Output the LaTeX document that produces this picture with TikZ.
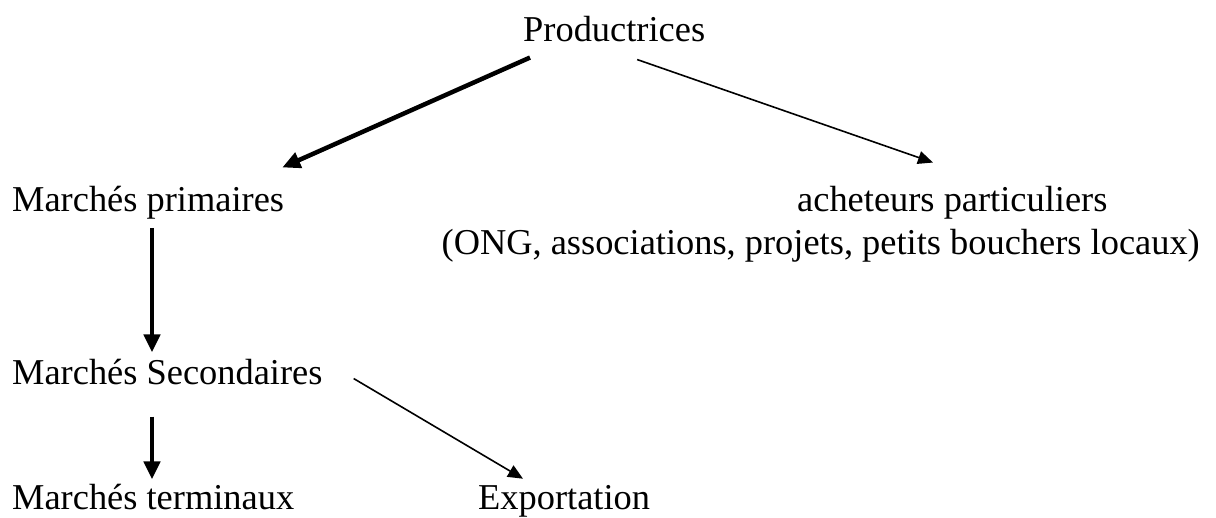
\documentclass[tikz,border=0pt]{standalone}
\usepackage{fontspec}
\setmainfont{Liberation Serif}
\usetikzlibrary{arrows.meta}

\begin{document}
\begin{tikzpicture}[x=1pt, y=-1pt,
    lbl/.style={inner sep=0pt, anchor=base west, font=\fontsize{36.4}{42}\selectfont},
    thickarrow/.style={line width=4.5pt, -{Triangle[length=18pt, width=16pt]}},
    thinarrow/.style={line width=1.6pt, -{Triangle[length=15pt, width=13pt]}}]
  \useasboundingbox (0,0) rectangle (1216,518);
  % labels
  \node[lbl] (prod) at (523,42) {Productrices};
  \node[lbl] (prim) at (12,212) {Marchés primaires};
  \node[lbl] (achat) at (797,212) {acheteurs particuliers};
  \node[lbl, anchor=base east] (ong) at (1200,255) {(ONG, associations, projets, petits bouchers locaux)};
  \node[lbl] (sec) at (12,385) {Marchés Secondaires};
  \node[lbl] (term) at (12,509) {Marchés terminaux};
  \node[lbl] (expo) at (478,509) {Exportation};
  % arrows
  \draw[thickarrow] ([shift={(7,15)}]prod.south west) -- ([shift={(-2,-19)}]prim.north east);
  \draw[thinarrow] ([shift={(23,17)}]prod.south) -- ([shift={(136,-24)}]achat.north west);
  \draw[thickarrow] ([shift={(140,8)}]prim.south west) -- ([shift={(140,-7)}]sec.north west);
  \draw[thickarrow] ([shift={(140,31)}]sec.south west) -- ([shift={(140,-4)}]term.north west);
  \draw[thinarrow] ([shift={(31,-7)}]sec.south east) -- ([shift={(45,-6)}]expo.north west);
\end{tikzpicture}
\end{document}
